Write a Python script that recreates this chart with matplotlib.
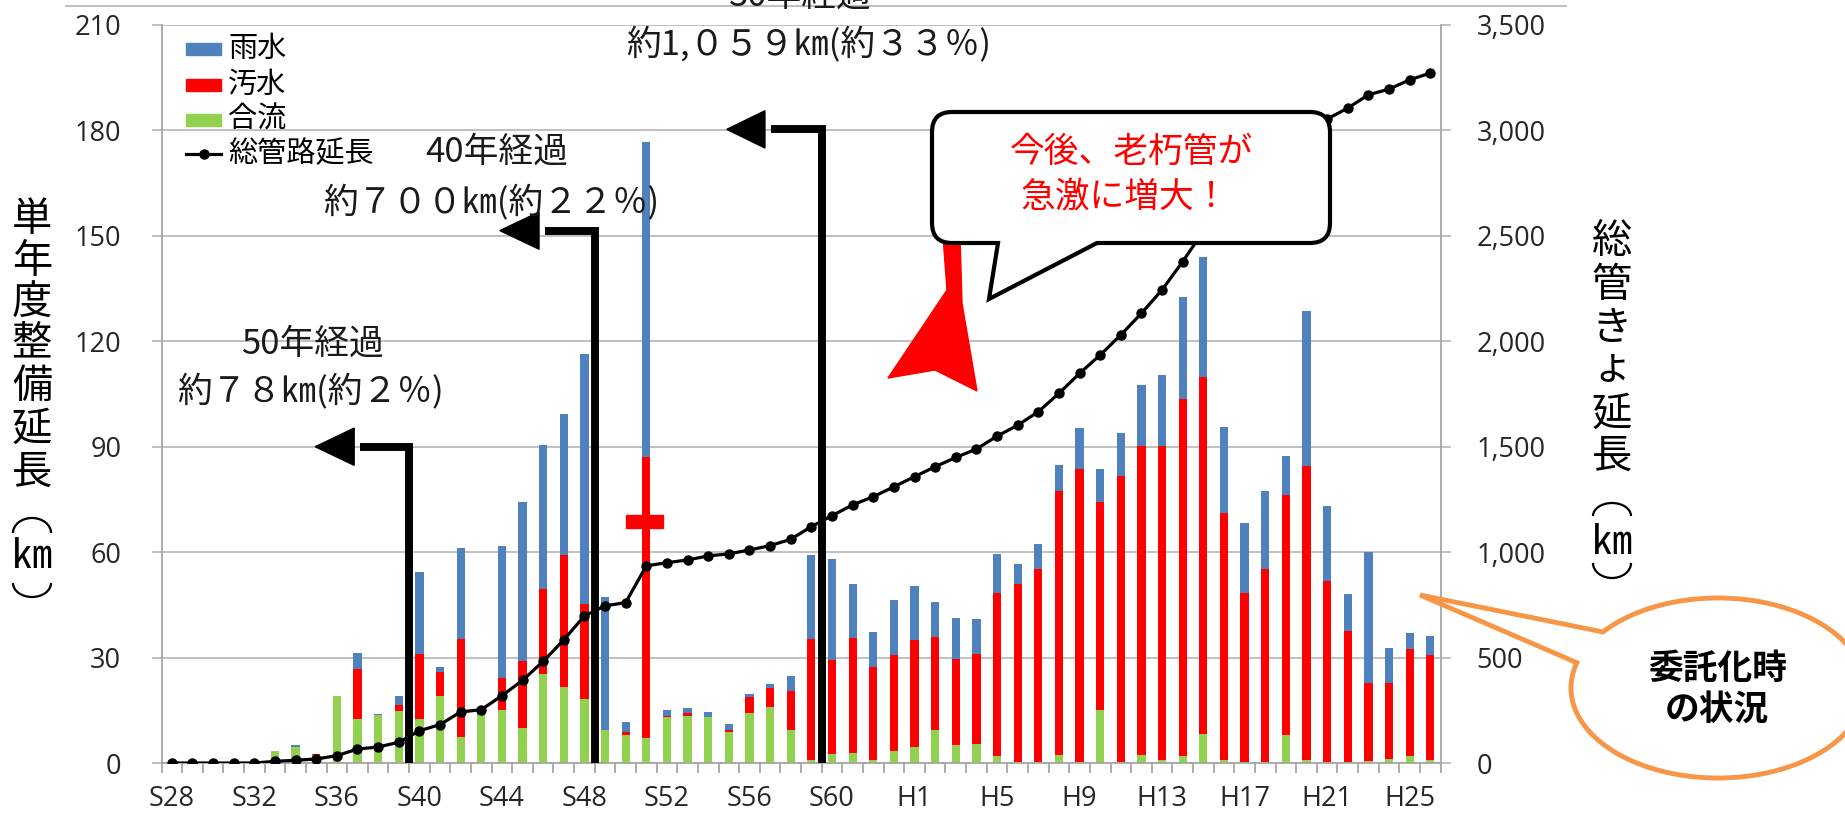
import numpy as np
import matplotlib.pyplot as plt
from matplotlib.lines import Line2D
from matplotlib.patches import Rectangle, Polygon, PathPatch, Arc
from matplotlib.path import Path
from matplotlib.transforms import Affine2D

plt.rcParams['font.family'] = ['Noto Sans CJK JP', 'DejaVu Sans']

# fiscal years S28..S63, H1..H26
years = ['S28', 'S29', 'S30', 'S31', 'S32', 'S33', 'S34', 'S35', 'S36', 'S37',
         'S38', 'S39', 'S40', 'S41', 'S42', 'S43', 'S44', 'S45', 'S46', 'S47',
         'S48', 'S49', 'S50', 'S51', 'S52', 'S53', 'S54', 'S55', 'S56', 'S57',
         'S58', 'S59', 'S60', 'S61', 'S62', 'S63',
         'H1', 'H2', 'H3', 'H4', 'H5', 'H6', 'H7', 'H8', 'H9', 'H10',
         'H11', 'H12', 'H13', 'H14', 'H15', 'H16', 'H17', 'H18', 'H19', 'H20',
         'H21', 'H22', 'H23', 'H24', 'H25', 'H26']
tick_labels = ['S28', 'S32', 'S36', 'S40', 'S44', 'S48', 'S52', 'S56', 'S60',
               'H1', 'H5', 'H9', 'H13', 'H17', 'H21', 'H25']

# single-year length (km): 合流 / 汚水 / 雨水
combined = [0, 0, 0, 0, 0, 3.5, 4.6, 2.2, 19.2, 12.6,
            13.7, 14.7, 12.5, 19.2, 7.4, 13.7, 15.2, 9.9, 25.3, 21.6,
            18.3, 9.5, 8.0, 7.1, 13.1, 13.3, 13.0, 8.7, 14.2, 15.9,
            9.3, 0.9, 2.6, 2.8, 0.9, 3.5,
            4.5, 9.3, 5.0, 5.4, 2.1, 0.3, 0.3, 2.4, 0.3, 15.2,
            0.3, 2.4, 0.9, 2.1, 8.2, 0.9, 0.3, 0.3, 7.9, 0.9,
            0.3, 0.3, 0.7, 1.2, 2.1, 0.9]
sewage = [0, 0, 0, 0, 0, 0, 0, 0.4, 0, 14.1,
          0, 1.9, 18.6, 6.8, 27.8, 0, 9.1, 19.2, 24.2, 37.6,
          27.0, 0, 0.7, 80.0, 0.3, 0.8, 0, 0.8, 4.7, 5.4,
          11.3, 34.3, 26.8, 32.7, 26.3, 27.3,
          30.4, 26.5, 24.6, 25.7, 46.2, 50.6, 54.8, 75.0, 83.5, 59.1,
          81.3, 87.8, 89.3, 101.6, 101.5, 70.1, 48.0, 54.8, 68.3, 83.7,
          51.6, 37.4, 22.0, 21.5, 30.3, 29.9]
rain = [0, 0, 0, 0, 0, 0, 0.4, 0, 0, 4.7,
        0.3, 2.6, 23.2, 1.2, 26.1, 0.5, 37.5, 45.2, 40.9, 40.0,
        71.1, 37.6, 3.1, 89.5, 1.8, 1.6, 1.5, 1.7, 0.7, 1.1,
        4.2, 24.0, 28.7, 15.4, 10.2, 15.6,
        15.6, 9.9, 11.8, 9.8, 11.2, 5.6, 7.2, 7.5, 11.4, 9.5,
        12.4, 17.4, 20.3, 29.0, 34.3, 24.5, 19.9, 22.3, 11.2, 44.0,
        21.3, 10.4, 37.2, 9.9, 4.5, 5.4]
# total pipe length (km, right axis)
total = [0, 0, 0, 0, 0, 8, 13, 19, 35, 66,
         76, 98, 153, 182, 242, 253, 319, 392, 482, 584,
         698, 745, 761, 935, 950, 963, 982, 992, 1010, 1031,
         1061, 1121, 1173, 1224, 1263, 1310,
         1358, 1405, 1449, 1489, 1550, 1602, 1666, 1753, 1848, 1935,
         2030, 2133, 2244, 2378, 2522, 2617, 2685, 2762, 2850, 2978,
         3054, 3106, 3169, 3196, 3240, 3272]

C_RAIN, C_SEW, C_COMB = '#4F81BD', '#FF0000', '#92D050'
GRID = '#c0c0c0'
TICKFONT = 'Open Sans'

W, H = 1845, 815
fig = plt.figure(figsize=(W / 100, H / 100), dpi=100)
# pixel coords measured from the top-left of the picture
px = Affine2D().scale(1 / W, -1 / H).translate(0, 1) + fig.transFigure

ax = fig.add_axes([161.5 / W, 52 / H, (1440.6 - 161.5) / W, (763 - 25) / H])
x = np.arange(len(years))
g = np.array(combined)
r = np.array(sewage)
b = np.array(rain)
bw = 0.4
ax.bar(x, g, bw, color=C_COMB, zorder=2)
ax.bar(x, r, bw, bottom=g, color=C_SEW, zorder=2)
ax.bar(x, b, bw, bottom=g + r, color=C_RAIN, zorder=2)

ax.set_xlim(-0.5, len(years) - 0.5)
ax.set_ylim(0, 210)
ax.set_yticks(range(0, 211, 30))
ax.set_yticklabels([str(v) for v in range(0, 211, 30)], fontfamily=TICKFONT)
ax.grid(axis='y', color=GRID, lw=1.4, zorder=0)
ax.set_axisbelow(True)
ax.set_xticks([years.index(t) for t in tick_labels])
ax.set_xticklabels(tick_labels, fontfamily=TICKFONT)
ax.set_xticks(np.arange(-0.5, len(years), 1), minor=True)
ax.tick_params(axis='x', which='major', length=0, pad=15.5, labelsize=19.5, labelcolor='#262626')
ax.tick_params(axis='x', which='minor', length=7, width=1.3, color='#a6a6a6')
ax.tick_params(axis='y', length=7, width=1.4, color=GRID, pad=22, labelsize=19.5, labelcolor='#262626')
for s in ['top', 'right']:
    ax.spines[s].set_visible(False)
for s in ['left', 'bottom']:
    ax.spines[s].set_color('#a6a6a6')
    ax.spines[s].set_linewidth(1.3)

ax2 = ax.twinx()
ax2.plot(x, total, color='black', lw=2.3, marker='o', ms=6.5, zorder=3)
ax2.set_ylim(0, 3500)
ax2.set_yticks(range(0, 3501, 500))
ax2.set_yticklabels(['{:,}'.format(v) for v in range(0, 3501, 500)], fontfamily=TICKFONT)
ax2.tick_params(axis='y', length=7, width=1.4, color=GRID, pad=19, labelsize=19.5, labelcolor='#262626')
for s in ['top', 'left', 'bottom']:
    ax2.spines[s].set_visible(False)
ax2.spines['right'].set_color('#a6a6a6')
ax2.spines['right'].set_linewidth(1.3)

# frame line at the very top
fig.add_artist(Line2D([66, 1566], [6, 6], transform=px, color=GRID, lw=1.5))

# legend
leg_rows = [49, 85, 120, 154]
for yy, col, lab in zip(leg_rows[:3], [C_RAIN, C_SEW, C_COMB], ['雨水', '汚水', '合流']):
    fig.add_artist(Rectangle((186, yy - 6), 35, 12, transform=px, color=col, zorder=3))
    fig.text(228, yy, lab, transform=px, ha='left', va='center', fontsize=21, zorder=3)
fig.add_artist(Line2D([186, 221], [154, 154], transform=px, color='black', lw=2.3, zorder=3))
fig.add_artist(Line2D([203.5], [154], transform=px, color='black', marker='o', ms=6.5, zorder=3))
fig.text(228, 154, '総管路延長', transform=px, ha='left', va='center', fontsize=21, zorder=3)


# vertical (stacked) axis titles, parentheses drawn as arcs like vertical writing
def stack(xc, centers, chars, size):
    for yc, ch in zip(centers, chars):
        fig.text(xc, yc, ch, transform=px, ha='center', va='center',
                 fontsize=size, zorder=3)


def paren(xc, ytop, ybot, w=38):
    fig.add_artist(Arc((xc, ybot), w, 2 * (ybot - ytop), theta1=180, theta2=360,
                       transform=px, color='black', lw=1.6, zorder=3))


def paren_close(xc, ytop, ybot, w=38):
    fig.add_artist(Arc((xc, ytop), w, 2 * (ybot - ytop), theta1=0, theta2=180,
                       transform=px, color='black', lw=1.6, zorder=3))


stack(32, [219, 262, 302, 343, 386, 429, 472, 557], '単年度整備延長㎞', 29)
paren(32, 518, 533)
paren_close(32, 583, 597)
stack(1612, [241, 286, 328, 368, 414, 456, 542], '総管きょ延長㎞', 29)
paren(1612, 503, 516)
paren_close(1612, 563, 578)


# elapsed-years arrows
def elbow(xv, ytop, base, tip, hh=5.3):
    fig.add_artist(Line2D([xv, xv, base + 0.3], [0, ytop, ytop], transform=ax.transData,
                          color='black', lw=5.7, solid_joinstyle='miter',
                          solid_capstyle='butt', zorder=3))
    fig.add_artist(Polygon([(tip, ytop), (base, ytop + hh), (base, ytop - hh)],
                           closed=True, transform=ax.transData, color='black', zorder=3))


elbow(11.5, 90, 8.84, 6.95)
elbow(20.5, 151.5, 17.8, 15.9)
elbow(31.5, 180.3, 28.75, 26.9)

ann = dict(transform=px, ha='center', va='center', fontsize=25, color='#1a1a1a', zorder=4)
fig.text(312, 344, '50年経過', **ann)
fig.text(311, 392, '約７８㎞(約２％)', **ann)
fig.text(497, 152, '40年経過', **ann)
fig.text(491, 203, '約７００㎞(約２２％)', **ann)
fig.text(800, -4, '30年経過', **ann)
fig.text(809, 45, '約1,０５９㎞(約３３％)', **ann)

# red pieces peeking out
fig.add_artist(Rectangle((22.0, 66.9), 1.8, 3.7, transform=ax.transData, color=C_SEW, zorder=3))
fig.add_artist(Polygon([(943, 236), (960, 236), (962, 303), (977, 391), (935, 370),
                        (888, 378), (947, 290)], closed=True, transform=px,
                       color=C_SEW, zorder=4))

# speech bubble
x0, y0, x1, y1, rr = 932, 112, 1330, 243, 20
verts = [(x0 + rr, y0), (x1 - rr, y0), (x1, y0), (x1, y0 + rr), (x1, y1 - rr),
         (x1, y1), (x1 - rr, y1), (1097, y1), (989, 299), (998, y1), (x0 + rr, y1),
         (x0, y1), (x0, y1 - rr), (x0, y0 + rr), (x0, y0), (x0 + rr, y0), (x0 + rr, y0)]
codes = [Path.MOVETO, Path.LINETO, Path.CURVE3, Path.CURVE3, Path.LINETO,
         Path.CURVE3, Path.CURVE3, Path.LINETO, Path.LINETO, Path.LINETO, Path.LINETO,
         Path.CURVE3, Path.CURVE3, Path.LINETO, Path.CURVE3, Path.CURVE3, Path.CLOSEPOLY]
fig.add_artist(PathPatch(Path(verts, codes), transform=px, facecolor='white',
                         edgecolor='black', lw=3, zorder=5))
fig.text(1131, 152, '今後、老朽管が', transform=px, ha='center', va='center',
         fontsize=25, color=C_SEW, zorder=6)
fig.text(1125, 198, '急激に増大！', transform=px, ha='center', va='center',
         fontsize=25, color=C_SEW, zorder=6)

# orange oval callout
cx, cy, ea, eb = 1718, 688, 147, 90
th = np.radians(np.linspace(-141.5, 196.3, 240))
oval = np.column_stack([cx + ea * np.cos(th), cy + eb * np.sin(th)])
oval = np.vstack([oval, [[1420, 595]]])
fig.add_artist(Polygon(oval, closed=True, transform=px, facecolor='white',
                       edgecolor='#F79646', lw=3.5, zorder=5))
fig.text(1718, 668, '委託化時', transform=px, ha='center', va='center',
         fontsize=25, fontweight='bold', zorder=6)
fig.text(1717, 709, 'の状況', transform=px, ha='center', va='center',
         fontsize=25, fontweight='bold', zorder=6)

fig.savefig('out.png', dpi=100)
